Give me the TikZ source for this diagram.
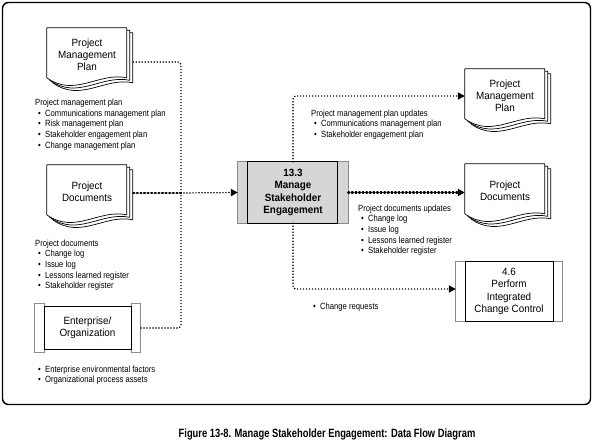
\documentclass[tikz,border=0pt]{standalone}
\usepackage{fontspec}
\setmainfont{Liberation Sans}
\newfontfamily\listfont[FakeStretch=0.85]{Liberation Sans}
\newfontfamily\boxfont[FakeStretch=0.94]{Liberation Sans}
\newfontfamily\capfont[FakeStretch=0.78]{Liberation Sans}
\usetikzlibrary{arrows.meta,calc,backgrounds}
\definecolor{procgray}{HTML}{D6D6D6}
\definecolor{stripgray}{HTML}{8A8A8A}
\newcommand\bul{\hspace*{3pt}\makebox[7pt][l]{\textbullet}}
\newcommand\drawdoc[1]{%
  \begin{scope}[shift={(#1.north west)}]
    \foreach \o/\p in {6/5,3/2.5,0/0}{%
      \draw[docline] (\o,\p) -- (80+\o,\p) -- (80+\o,50+\p)
        .. controls (52+\o,44+\p) and (28+\o,70+\p) .. (\o,50+\p) -- cycle;
    }
  \end{scope}}
\newcommand\drawproc[5]{%
  \draw[stripline,fill=#5] ([shift={(0,-#4)}]#1.north west) rectangle ([shift={(#2,#4)}]#1.south west);
  \draw[stripline,fill=#5] ([shift={(-#3,-#4)}]#1.north east) rectangle ([shift={(0,#4)}]#1.south east);
  \draw[procline,fill=#5] ([shift={(#2,0)}]#1.north west) rectangle ([shift={(-#3,0)}]#1.south east);}
\begin{document}
\begin{tikzpicture}[x=1pt,y=-1pt,
  docline/.style={line width=0.7pt, fill=white, line join=round},
  stripline/.style={line width=0.9pt, draw=stripgray},
  procline/.style={line width=0.8pt, draw=black},
  docnode/.style={minimum width=80pt, minimum height=54pt, inner sep=0pt, align=center,
    font=\boxfont\fontsize{10.5}{12}\selectfont},
  procnode/.style={inner sep=0pt, align=center, font=\boxfont\fontsize{10.5}{12.2}\selectfont},
  listtext/.style={anchor=north west, inner sep=0pt, align=left,
    font=\listfont\fontsize{9}{10.6}\selectfont},
  thindot/.style={line width=1.7pt, line cap=round, dash pattern=on 0pt off 3pt},
  thickdot/.style={line width=2.3pt, line cap=round, dash pattern=on 1pt off 2.6pt},
  arr/.style={-{Triangle[length=7pt,width=7pt]}}]
\useasboundingbox (0,0) rectangle (593,442);

% inputs
\node[docnode] (lpmp) at (87,55) {Project\\Management\\Plan};
\node[docnode] (lpd) at (87,192) {Project\\Documents};
\node[procnode, minimum width=105pt, minimum height=42pt] (ent) at (87.5,328) {Enterprise/\\Organization};

% process
\node[procnode, minimum width=110pt, minimum height=61pt, font=\boxfont\bfseries\fontsize{10.5}{12.6}\selectfont]
  (p133) at (293,192.5) {13.3\\Manage\\Stakeholder\\Engagement};

% outputs
\node[docnode] (rpmp) at (505,96) {Project\\Management\\Plan};
\node[docnode] (rpd) at (505,191) {Project\\Documents};
\node[procnode, minimum width=106pt, minimum height=59pt] (p46) at (509,291.5) {4.6\\Perform\\Integrated\\Change Control};

% lists
\node[listtext] (l1) at (35,99) {Project management plan\\\bul Communications management plan\\\bul Risk management plan\\\bul Stakeholder engagement plan\\\bul Change management plan};
\node[listtext] (l2) at (35,239.5) {Project documents\\\bul Change log\\\bul Issue log\\\bul Lessons learned register\\\bul Stakeholder register};
\node[listtext] (l3) at (35,365.5) {\bul Enterprise environmental factors\\\bul Organizational process assets};
\node[listtext] (l4) at (311,109.5) {Project management plan updates\\\bul Communications management plan\\\bul Stakeholder engagement plan};
\node[listtext] (l5) at (358,204.5) {Project documents updates\\\bul Change log\\\bul Issue log\\\bul Lessons learned register\\\bul Stakeholder register};
\node[listtext] (l6) at (310,302.5) {\bul Change requests};

% caption
\node[font=\capfont\bfseries\fontsize{12}{14}\selectfont, inner sep=0pt] (cap) at (327,434)
  {Figure 13-8. Manage Stakeholder Engagement: Data Flow Diagram};

% shapes behind text
\begin{scope}[on background layer]
  \draw[line width=1.4pt, rounded corners=6pt] (2.5,2.5) rectangle (590.5,404.5);
  \drawdoc{lpmp}
  \drawdoc{lpd}
  \drawdoc{rpmp}
  \drawdoc{rpd}
  \drawproc{ent}{10}{9}{3}{white}
  \drawproc{p133}{10}{11}{0}{procgray}
  \drawproc{p46}{10}{9}{0}{white}
\end{scope}

% connectors
\coordinate (lpmpout) at ([shift={(6,7)}]lpmp.east);
\coordinate (lpdout) at ([shift={(6,1)}]lpd.east);
\coordinate (bust) at (181,62);
\coordinate (busm) at (181,193);
\coordinate (busb) at (181,328);
\coordinate (p46in) at ([shift={(0,-2.5)}]p46.west);

\draw[thindot, rounded corners=3pt] (lpmpout) -- (bust) -- (busb) -- (ent.east);
\draw[thickdot] (lpdout) -- (busm);
\draw[thindot, arr] (busm) -- (p133.west);

\draw[thindot, arr, rounded corners=3pt] (p133.north) |- (rpmp.west);
\draw[thickdot, arr] (p133.east) -- (p133.east -| rpd.west);
\draw[thindot, arr, rounded corners=3pt] (p133.south) |- (p46in);
\end{tikzpicture}
\end{document}
